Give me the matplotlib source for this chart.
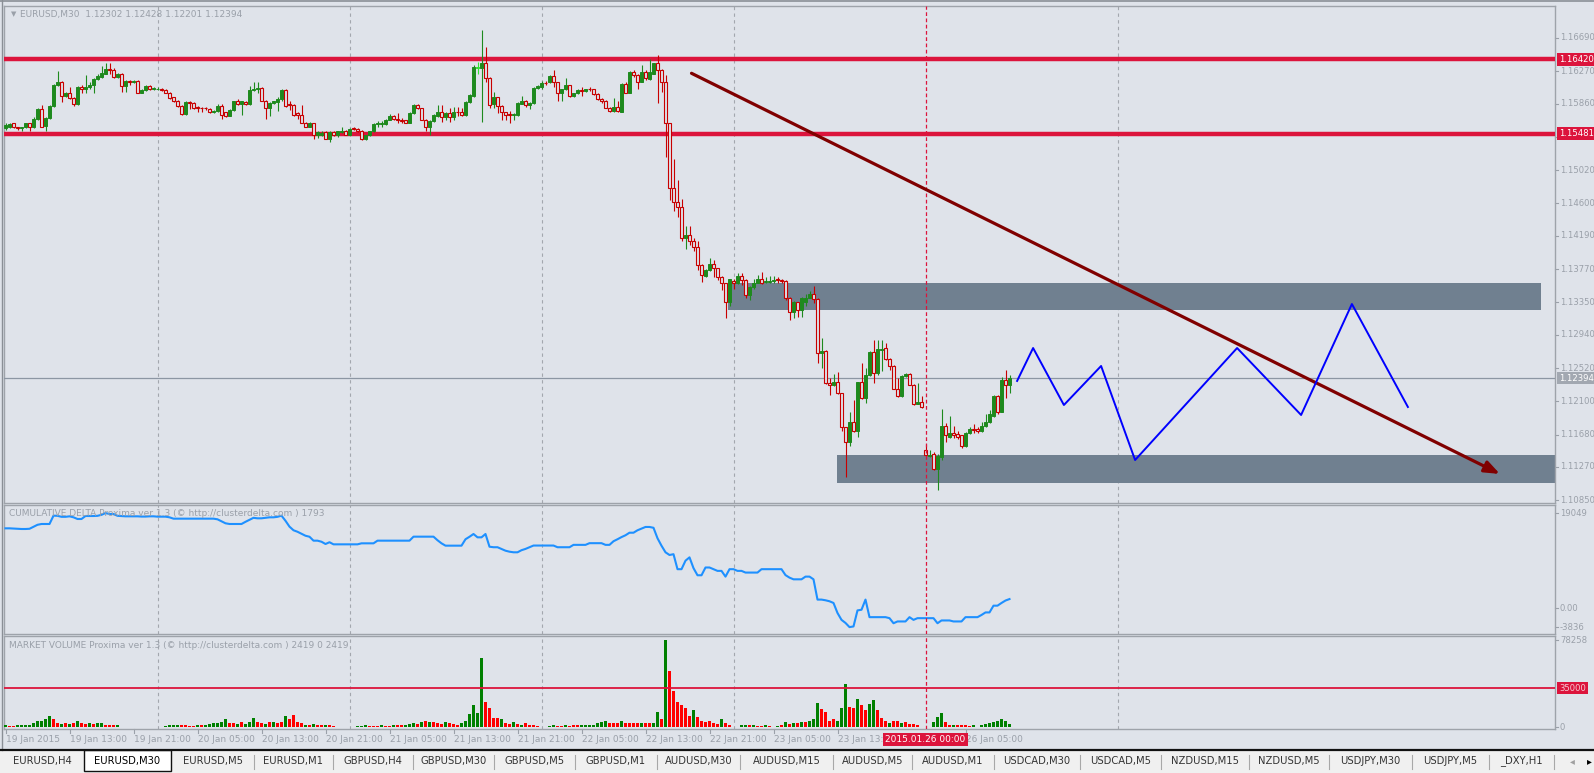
import matplotlib
matplotlib.use("Agg")
import matplotlib.pyplot as plt
import matplotlib.transforms as mtransforms
from matplotlib.patches import Rectangle
from matplotlib.lines import Line2D
import numpy as np

plt.rcParams['font.family'] = ['DejaVu Sans']

# ------------------------------------------------------------------ data
chart_title = "EURUSD,M30  1.12302 1.12428 1.12201 1.12394"
delta_title = "CUMULATIVE DELTA Proxima ver 1.3 (\u00a9 http://clusterdelta.com ) 1793"
volume_title = "MARKET VOLUME Proxima ver 1.3 (\u00a9 http://clusterdelta.com ) 2419 0 2419"

opens = [
 1.1555,1.1556,1.1561,1.1556,1.1555,1.1556,1.1561,1.1556,1.1567,1.1579,
 1.1558,1.1568,1.1583,1.1609,1.1614,1.1596,1.1600,1.1593,1.1585,1.1607,
 1.1605,1.1607,1.1609,1.1617,1.1620,1.1624,1.1630,1.1629,1.1620,1.1624,
 1.1608,1.1615,1.1614,1.1615,1.1600,1.1603,1.1608,1.1604,1.1604,1.1605,
 1.1603,1.1600,1.1594,1.1590,1.1583,1.1573,1.1588,1.1587,1.1582,1.1581,
 1.1580,1.1579,1.1575,1.1577,1.1583,1.1575,1.1571,1.1578,1.1589,1.1585,
 1.1588,1.1585,1.1603,1.1605,1.1606,1.1590,1.1581,1.1587,1.1588,1.1592,
 1.1603,1.1585,1.1584,1.1574,1.1572,1.1562,1.1557,1.1561,1.1547,1.1547,
 1.1550,1.1542,1.1550,1.1546,1.1550,1.1552,1.1547,1.1555,1.1554,1.1552,
 1.1542,1.1546,1.1551,1.1560,1.1560,1.1560,1.1566,1.1571,1.1567,1.1566,
 1.1565,1.1562,1.1574,1.1584,1.1580,1.1566,1.1556,1.1564,1.1570,1.1575,
 1.1569,1.1574,1.1569,1.1576,1.1575,1.1572,1.1588,1.1596,1.1631,1.1631,
 1.1638,1.1619,1.1586,1.1594,1.1583,1.1575,1.1573,1.1572,1.1572,1.1586,
 1.1589,1.1584,1.1587,1.1606,1.1607,1.1612,1.1613,1.1621,1.1613,1.1599,
 1.1604,1.1609,1.1596,1.1599,1.1603,1.1602,1.1604,1.1604,1.1598,1.1592,
 1.1590,1.1581,1.1577,1.1582,1.1576,1.1611,1.1600,1.1626,1.1622,1.1614,
 1.1626,1.1617,1.1624,1.1637,1.1629,1.1614,1.1561,1.1479,1.1462,1.1455,
 1.1416,1.1420,1.1413,1.1405,1.1382,1.1368,1.1376,1.1384,1.1378,1.1367,
 1.1359,1.1335,1.1362,1.1359,1.1368,1.1363,1.1344,1.1354,1.1360,1.1364,
 1.1361,1.1361,1.1362,1.1364,1.1363,1.1362,1.1341,1.1323,1.1335,1.1325,
 1.1335,1.1341,1.1346,1.1339,1.1271,1.1274,1.1233,1.1230,1.1234,1.1220,
 1.1177,1.1158,1.1184,1.1172,1.1234,1.1214,1.1243,1.1272,1.1246,1.1275,
 1.1277,1.1264,1.1255,1.1226,1.1217,1.1242,1.1245,1.1231,1.1207,1.1209,
 1.1149,1.1141,1.1143,1.1124,1.1140,1.1179,1.1165,1.1170,1.1169,1.1167,
 1.1153,1.1170,1.1175,1.1175,1.1172,1.1179,1.1184,1.1192,1.1217,1.1197,
 1.1237,1.1230]
highs = [
 1.1561,1.1561,1.1562,1.1557,1.1557,1.1562,1.1562,1.1569,1.1581,1.1584,
 1.1569,1.1584,1.1611,1.1627,1.1615,1.1601,1.1607,1.1594,1.1608,1.1609,
 1.1622,1.1613,1.1619,1.1623,1.1633,1.1638,1.1638,1.1631,1.1625,1.1625,
 1.1616,1.1616,1.1616,1.1616,1.1604,1.1609,1.1609,1.1607,1.1607,1.1606,
 1.1604,1.1601,1.1595,1.1591,1.1584,1.1589,1.1589,1.1588,1.1583,1.1582,
 1.1582,1.1580,1.1578,1.1585,1.1585,1.1576,1.1579,1.1590,1.1592,1.1590,
 1.1589,1.1608,1.1614,1.1614,1.1607,1.1591,1.1588,1.1590,1.1595,1.1605,
 1.1604,1.1589,1.1585,1.1576,1.1584,1.1563,1.1563,1.1562,1.1551,1.1551,
 1.1551,1.1551,1.1551,1.1552,1.1556,1.1553,1.1555,1.1556,1.1555,1.1553,
 1.1547,1.1552,1.1561,1.1564,1.1564,1.1567,1.1573,1.1572,1.1574,1.1568,
 1.1566,1.1575,1.1585,1.1585,1.1581,1.1567,1.1565,1.1573,1.1584,1.1584,
 1.1575,1.1580,1.1582,1.1582,1.1580,1.1589,1.1598,1.1635,1.1639,1.1679,
 1.1657,1.1620,1.1601,1.1595,1.1584,1.1576,1.1577,1.1574,1.1588,1.1596,
 1.1591,1.1588,1.1607,1.1609,1.1615,1.1615,1.1622,1.1629,1.1614,1.1605,
 1.1618,1.1610,1.1600,1.1604,1.1607,1.1605,1.1607,1.1605,1.1599,1.1593,
 1.1591,1.1582,1.1593,1.1589,1.1612,1.1614,1.1627,1.1628,1.1623,1.1635,
 1.1628,1.1643,1.1638,1.1648,1.1630,1.1622,1.1561,1.1516,1.1489,1.1465,
 1.1431,1.1431,1.1416,1.1412,1.1384,1.1377,1.1391,1.1388,1.1379,1.1368,
 1.1360,1.1365,1.1364,1.1372,1.1372,1.1364,1.1356,1.1365,1.1370,1.1373,
 1.1367,1.1368,1.1368,1.1367,1.1365,1.1363,1.1342,1.1337,1.1336,1.1342,
 1.1346,1.1349,1.1356,1.1340,1.1290,1.1275,1.1239,1.1244,1.1247,1.1221,
 1.1178,1.1197,1.1212,1.1235,1.1259,1.1252,1.1273,1.1288,1.1287,1.1287,
 1.1284,1.1265,1.1256,1.1239,1.1243,1.1246,1.1246,1.1232,1.1233,1.1217,
 1.1156,1.1148,1.1146,1.1144,1.1200,1.1182,1.1191,1.1179,1.1172,1.1168,
 1.1171,1.1177,1.1181,1.1178,1.1184,1.1194,1.1199,1.1218,1.1218,1.1241,
 1.1249,1.1243]
lows = [
 1.1553,1.1555,1.1555,1.1553,1.1552,1.1555,1.1551,1.1555,1.1566,1.1556,
 1.1551,1.1567,1.1582,1.1608,1.1588,1.1594,1.1592,1.1583,1.1584,1.1600,
 1.1599,1.1605,1.1599,1.1616,1.1619,1.1623,1.1624,1.1619,1.1619,1.1601,
 1.1601,1.1609,1.1612,1.1599,1.1599,1.1602,1.1603,1.1603,1.1603,1.1602,
 1.1599,1.1592,1.1588,1.1582,1.1572,1.1572,1.1579,1.1579,1.1575,1.1576,
 1.1578,1.1574,1.1574,1.1576,1.1567,1.1569,1.1570,1.1577,1.1584,1.1572,
 1.1584,1.1584,1.1602,1.1600,1.1589,1.1567,1.1570,1.1586,1.1577,1.1590,
 1.1582,1.1578,1.1571,1.1567,1.1561,1.1556,1.1556,1.1542,1.1543,1.1545,
 1.1541,1.1538,1.1545,1.1544,1.1549,1.1546,1.1546,1.1553,1.1550,1.1540,
 1.1540,1.1545,1.1550,1.1556,1.1556,1.1559,1.1565,1.1566,1.1562,1.1561,
 1.1561,1.1561,1.1573,1.1579,1.1565,1.1552,1.1546,1.1563,1.1569,1.1563,
 1.1565,1.1563,1.1565,1.1571,1.1570,1.1571,1.1587,1.1595,1.1624,1.1563,
 1.1613,1.1580,1.1580,1.1574,1.1565,1.1565,1.1561,1.1565,1.1571,1.1585,
 1.1582,1.1579,1.1586,1.1605,1.1605,1.1610,1.1612,1.1607,1.1589,1.1589,
 1.1603,1.1595,1.1594,1.1598,1.1596,1.1601,1.1602,1.1597,1.1591,1.1587,
 1.1580,1.1576,1.1576,1.1576,1.1575,1.1599,1.1599,1.1620,1.1605,1.1613,
 1.1616,1.1616,1.1623,1.1587,1.1601,1.1519,1.1464,1.1451,1.1443,1.1412,
 1.1403,1.1408,1.1400,1.1376,1.1361,1.1367,1.1374,1.1367,1.1363,1.1351,
 1.1315,1.1330,1.1352,1.1358,1.1357,1.1340,1.1338,1.1352,1.1359,1.1358,
 1.1359,1.1359,1.1360,1.1360,1.1360,1.1338,1.1313,1.1315,1.1316,1.1316,
 1.1330,1.1340,1.1334,1.1258,1.1252,1.1232,1.1218,1.1229,1.1219,1.1173,
 1.1114,1.1153,1.1171,1.1165,1.1213,1.1208,1.1242,1.1233,1.1243,1.1248,
 1.1262,1.1250,1.1225,1.1216,1.1216,1.1241,1.1230,1.1205,1.1207,1.1202,
 1.1141,1.1139,1.1123,1.1098,1.1136,1.1158,1.1163,1.1163,1.1162,1.1151,
 1.1152,1.1169,1.1170,1.1170,1.1171,1.1178,1.1183,1.1190,1.1194,1.1196,
 1.1214,1.1220]
closes = [
 1.1559,1.1560,1.1556,1.1555,1.1556,1.1561,1.1556,1.1567,1.1579,1.1557,
 1.1568,1.1583,1.1610,1.1614,1.1596,1.1600,1.1593,1.1585,1.1607,1.1604,
 1.1607,1.1610,1.1617,1.1621,1.1625,1.1630,1.1629,1.1620,1.1624,1.1608,
 1.1615,1.1614,1.1615,1.1600,1.1603,1.1608,1.1604,1.1606,1.1605,1.1603,
 1.1600,1.1593,1.1590,1.1583,1.1573,1.1588,1.1587,1.1580,1.1580,1.1580,
 1.1580,1.1575,1.1577,1.1583,1.1572,1.1571,1.1578,1.1589,1.1585,1.1589,
 1.1585,1.1603,1.1605,1.1606,1.1590,1.1581,1.1587,1.1589,1.1592,1.1603,
 1.1583,1.1584,1.1572,1.1572,1.1562,1.1557,1.1561,1.1547,1.1550,1.1549,
 1.1542,1.1550,1.1546,1.1551,1.1552,1.1547,1.1554,1.1554,1.1551,1.1542,
 1.1546,1.1551,1.1560,1.1561,1.1561,1.1566,1.1571,1.1567,1.1565,1.1564,
 1.1562,1.1574,1.1584,1.1580,1.1566,1.1556,1.1564,1.1572,1.1575,1.1569,
 1.1574,1.1569,1.1576,1.1575,1.1572,1.1588,1.1597,1.1632,1.1632,1.1638,
 1.1619,1.1584,1.1594,1.1583,1.1575,1.1572,1.1572,1.1573,1.1587,1.1589,
 1.1584,1.1587,1.1606,1.1608,1.1612,1.1612,1.1621,1.1613,1.1599,1.1604,
 1.1609,1.1596,1.1599,1.1603,1.1602,1.1604,1.1604,1.1598,1.1592,1.1589,
 1.1581,1.1577,1.1582,1.1577,1.1611,1.1600,1.1626,1.1622,1.1614,1.1626,
 1.1618,1.1626,1.1637,1.1629,1.1614,1.1561,1.1479,1.1462,1.1455,1.1416,
 1.1420,1.1412,1.1405,1.1382,1.1370,1.1376,1.1384,1.1378,1.1367,1.1359,
 1.1335,1.1364,1.1359,1.1368,1.1363,1.1344,1.1354,1.1360,1.1364,1.1360,
 1.1362,1.1362,1.1363,1.1363,1.1362,1.1340,1.1323,1.1336,1.1325,1.1341,
 1.1341,1.1346,1.1339,1.1271,1.1273,1.1233,1.1230,1.1234,1.1220,1.1177,
 1.1158,1.1184,1.1172,1.1234,1.1214,1.1243,1.1272,1.1246,1.1276,1.1276,
 1.1263,1.1254,1.1226,1.1217,1.1242,1.1245,1.1231,1.1207,1.1209,1.1203,
 1.1142,1.1142,1.1124,1.1141,1.1179,1.1167,1.1170,1.1168,1.1165,1.1153,
 1.1170,1.1175,1.1174,1.1172,1.1179,1.1184,1.1194,1.1217,1.1197,1.1237,
 1.1230,1.1239]

volumes = [
 1500,800,800,1400,1400,2200,2200,3500,5000,5700,
 6800,9500,6800,4000,3000,3500,2700,3500,5700,3500,
 2700,4000,2700,4000,4000,2200,1400,1400,2200,0,
 0,0,0,0,0,0,0,0,0,0,
 800,1400,1400,2200,1400,1400,800,800,1400,1400,
 2200,3000,3500,3500,4100,6800,3500,3500,2700,4100,
 2700,4100,8500,4100,3500,2700,4100,4900,3500,4100,
 9600,7600,10400,4100,3500,2200,2200,3000,2200,1400,
 2200,1400,800,400,0,0,0,0,800,800,
 1400,800,800,500,1400,800,800,1400,2200,1400,
 2200,2700,3500,2700,4900,5700,4100,4100,3500,2700,
 4100,3500,2700,2200,3500,5700,11800,20000,12300,61800,
 22700,17200,8500,8500,6800,3500,2700,4100,2700,2200,
 3500,2200,1400,800,0,0,800,1400,800,800,
 1400,800,1400,1400,1400,1400,2200,2200,3500,4100,
 5700,3500,3500,3500,5700,3500,3500,3500,3500,3500,
 3500,3500,3500,13400,7600,78258,50600,32300,22100,19400,
 17200,10100,15000,9000,5700,4100,5700,3500,3000,6800,
 3500,1400,0,0,1400,2200,1400,1400,800,800,
 1400,800,400,800,2200,4100,2700,3500,3500,4900,
 4900,5700,7600,21300,15900,13100,5700,6800,5700,16700,
 38500,17800,17200,24900,20000,15000,20500,24000,15000,8500,
 5700,3500,5700,5700,3500,4100,3000,3000,1400,0,
 0,0,4900,9000,12600,4100,2200,2200,1400,2200,
 1400,800,2200,300,2200,3000,3500,4100,5700,6800,
 5000,2419]
volume_side = ("grrggggggg" "ggrrgrgrgr" "rgrggrrrgg" "gggggggggg" "ggggrrrrgr"
               "ggggggrrgr" "gggrrgrgrr" "grrrrgrgrr" "grrrgggggg" "grrrgrrgrr"
               "gggrgrgrrr" "grrrgggggg" "rrrrgrrgrg" "rrrrggggrr" "grrrgggggg"
               "grrrgrrrrg" "rrggrgrrrr" "rrgrrrrrrg" "rrggggrgrr" "grrgrgrgrg"
               "rgggrrrrgg" "grrgrrggrr" "rgrrgrrrrg" "gggggrrgrr" "rrgrgggggg" "gg")

cum_delta = [
 15990,15990,15950,15900,15856,15856,15900,16300,16700,16860,
 16860,16860,18532,18500,18300,18300,18400,18200,17863,17863,
 18465,18465,18465,18500,18700,19049,18866,18866,18500,18450,
 18400,18400,18400,18400,18350,18350,18400,18400,18331,18331,
 18331,18200,17930,17930,17930,17930,17930,17930,17930,17930,
 17930,17930,17930,17800,17400,17000,16860,16860,16860,16860,
 17300,17700,18100,18000,18000,18100,18200,18200,18300,18532,
 17500,16324,15600,15300,14900,14500,14300,13514,13514,13300,
 12845,13200,12778,12778,12778,12778,12778,12778,12778,12980,
 12980,12980,12980,13514,13514,13514,13514,13514,13514,13514,
 13514,13514,14317,14317,14317,14317,14317,14317,13600,12980,
 12511,12511,12511,12511,12511,13800,14300,14852,14183,14183,
 14852,12300,12197,12197,11858,11500,11300,11180,11180,11600,
 11858,12200,12536,12536,12536,12536,12536,12536,12197,12197,
 12197,12197,12672,12672,12672,12672,13010,13010,13010,13010,
 12672,12672,13400,13800,14231,14600,15112,15112,15600,15926,
 16265,16265,16100,14000,12500,11180,10638,10800,7790,7790,
 9500,10163,8000,6570,6570,8129,8129,7800,7450,7450,
 6299,7790,7790,7450,7450,7112,7112,7112,7112,7790,
 7790,7790,7790,7790,7790,6600,6095,5756,5756,5756,
 6299,6299,5756,1688,1688,1550,1350,1010,-1000,-2380,
 -3000,-3836,-3700,-480,-350,1688,-1838,-1838,-1838,-1838,
 -1838,-2041,-3058,-2700,-2700,-2700,-1838,-2380,-2041,-2041,
 -2041,-2041,-2041,-3058,-2500,-2500,-2500,-2700,-2700,-2700,
 -1838,-1838,-1838,-1838,-1400,-888,-888,468,468,1010,
 1500,1793]

level_high = 1.16420
level_low = 1.15481
last_price = 1.12394
price_ticks = [1.16690, 1.16270, 1.15860, 1.15440, 1.15020, 1.14600, 1.14190,
               1.13770, 1.13350, 1.12940, 1.12520, 1.12100, 1.11680, 1.11270, 1.10850]
delta_ticks = [19049, 0, -3836]
delta_tick_labels = ["19049", "0.00", "-3836"]
volume_ticks = [78258, 0]
volume_level = 35000

time_label_bars = [0, 16, 32, 48, 64, 80, 96, 112, 128, 144, 160, 176, 192, 208, 240]
time_labels = ["19 Jan 2015", "19 Jan 13:00", "19 Jan 21:00", "20 Jan 05:00", "20 Jan 13:00",
               "20 Jan 21:00", "21 Jan 05:00", "21 Jan 13:00", "21 Jan 21:00", "22 Jan 05:00",
               "22 Jan 13:00", "22 Jan 21:00", "23 Jan 05:00", "23 Jan 13:0", "26 Jan 05:00"]
day_grid_bars = [38, 86, 134, 182, 278]
marker_bar = 230
marker_label = "2015.01.26 00:00"
special_bar = 118

zone_upper_bars = (180.6, 383.9)
zone_upper_prices = (1.13254, 1.13595)
zone_lower_bars = (207.9, 400.0)
zone_lower_prices = (1.11072, 1.11422)
trend_bars = (171.5, 373.6)
trend_prices = (1.16244, 1.11182)
zigzag_bars = [252.9, 256.9, 264.6, 273.9, 282.4, 307.9, 323.9, 336.6, 350.6]
zigzag_prices = [1.12357, 1.12773, 1.12053, 1.12546, 1.11358, 1.12773, 1.11927, 1.13329, 1.12028]

tab_names = ["EURUSD,H4", "EURUSD,M30", "EURUSD,M5", "EURUSD,M1", "GBPUSD,H4", "GBPUSD,M30",
             "GBPUSD,M5", "GBPUSD,M1", "AUDUSD,M30", "AUDUSD,M15", "AUDUSD,M5", "AUDUSD,M1",
             "USDCAD,M30", "USDCAD,M5", "NZDUSD,M15", "NZDUSD,M5", "USDJPY,M30", "USDJPY,M5", "_DXY,H1"]
active_tab = 1

# ------------------------------------------------------------------ style
W, H = 1594, 773
BG = '#DFE3EA'
FRAME = '#9EA3AA'
TXT = '#9AA0A9'
GREEN = '#1E8A1E'
RED = '#C80000'
CRIMSON = '#DC143C'

fig = plt.figure(figsize=(W / 100, H / 100), dpi=100)
fig.patch.set_facecolor(BG)


def add_ax(x0, y0, x1, y1):
    a = fig.add_axes([x0 / W, 1 - y1 / H, (x1 - x0) / W, (y1 - y0) / H])
    a.set_facecolor(BG)
    a.set_xlim(-0.375, 387.375)
    a.set_xticks([])
    a.set_yticks([])
    for s in a.spines.values():
        s.set_color(FRAME)
        s.set_linewidth(1.0)
    return a


ax_p = add_ax(4, 6, 1555, 503)
ax_d = add_ax(4, 505, 1555, 634)
ax_v = add_ax(4, 636, 1555, 729)
ax_p.set_ylim(1.10815, 1.17094)
ax_d.set_ylim(-5218, 20672)
ax_v.set_ylim(-1800, 82000)

n = len(closes)
xs = np.arange(n)
o = np.array(opens); h = np.array(highs); l = np.array(lows); c = np.array(closes)

# grid lines
for a in (ax_p, ax_d, ax_v):
    for b in day_grid_bars:
        a.axvline(b, color='#A3A7AE', lw=0.8, ls=(0, (3, 3)), zorder=1)
    a.axvline(marker_bar, color=CRIMSON, lw=0.9, ls=(0, (3, 2)), zorder=6)

# zones
for (b0, b1), (p0, p1) in ((zone_upper_bars, zone_upper_prices), (zone_lower_bars, zone_lower_prices)):
    ax_p.add_patch(Rectangle((b0, p0), b1 - b0, p1 - p0, fc='#708090', ec='none', zorder=2))

# level lines
for lv in (level_high, level_low):
    ax_p.axhline(lv, color=CRIMSON, lw=3.2, zorder=3, solid_capstyle='butt')
ax_p.axhline(last_price, color='#8C96A3', lw=0.9, zorder=3)

# candles
bull = c > o
for i in range(n):
    col = GREEN if bull[i] else RED
    if i == special_bar:
        col = '#32E032'
    ax_p.vlines(xs[i], l[i], h[i], color=col, lw=0.8, zorder=4)
    lo_b = min(o[i], c[i])
    ht = max(abs(c[i] - o[i]), 0.00001)
    if bull[i] or i == special_bar:
        ax_p.bar(xs[i], ht, bottom=lo_b, width=0.55, color=col, edgecolor=col, lw=0.7, zorder=5)
    else:
        ax_p.bar(xs[i], ht, bottom=lo_b, width=0.55, color=BG, edgecolor=col, lw=0.8, zorder=5)

# trend arrow
ax_p.annotate('', xy=(trend_bars[1], trend_prices[1]), xytext=(trend_bars[0], trend_prices[0]),
              arrowprops=dict(arrowstyle='-|>,head_length=0.9,head_width=0.35', color='#800000',
                              lw=2.3, shrinkA=0, shrinkB=0), zorder=7)
# zigzag
ax_p.plot(zigzag_bars, zigzag_prices, color='#0000FF', lw=1.4, zorder=7)

# delta line
ax_d.plot(xs, cum_delta, color='#1E90FF', lw=1.5, zorder=5)

# volume bars
vcols = ['#008000' if s == 'g' else '#FF0000' for s in volume_side]
ax_v.bar(xs, volumes, width=0.7, color=vcols, lw=0, zorder=4)
ax_v.axhline(volume_level, color=CRIMSON, lw=1.3, zorder=5)

# ------------------------------------------------------------------ right scales
FS = 6.5
RFS = 6.1
def right_labels(a, vals, labels):
    tr = mtransforms.blended_transform_factory(a.transAxes, a.transData)
    for v, s in zip(vals, labels):
        a.text(1.0 + 5 / 1551, v, s, transform=tr, fontsize=RFS, color=TXT, va='center', ha='left',
               clip_on=False, zorder=8)
        a.plot([1.0, 1.0 + 3 / 1551], [v, v], transform=tr, color=TXT, lw=0.8, clip_on=False)

right_labels(ax_p, price_ticks, ["%.5f" % p for p in price_ticks])
right_labels(ax_d, delta_ticks, delta_tick_labels)
right_labels(ax_v, volume_ticks, [str(v) for v in volume_ticks])

def box_label(a, v, s, fc, tc='white'):
    tr = mtransforms.blended_transform_factory(a.transAxes, a.transData)
    a.text(1.0 + 4 / 1551, v, s, transform=tr, fontsize=RFS, color=tc, va='center', ha='left',
           clip_on=False, zorder=10,
           bbox=dict(boxstyle='square,pad=0.2', fc=fc, ec='none'))

box_label(ax_p, level_high, "%.5f" % level_high, CRIMSON)
box_label(ax_p, level_low, "%.5f" % level_low, CRIMSON)
box_label(ax_p, last_price, "%.5f" % last_price, '#A2A8B1')
box_label(ax_v, volume_level, str(volume_level), CRIMSON, '#F6C8D2')

# ------------------------------------------------------------------ titles
fig.text(11 / W, 1 - 14 / H, "\u25BC", fontsize=5, color=TXT, va='center', ha='left')
fig.text(20 / W, 1 - 14 / H, chart_title, fontsize=FS, color=TXT, va='center', ha='left')
fig.text(9 / W, 1 - 514 / H, delta_title, fontsize=FS, color=TXT, va='center', ha='left', zorder=0)
fig.text(9 / W, 1 - 645 / H, volume_title, fontsize=FS, color=TXT, va='center', ha='left')
ax_p.plot([1009], [1.17094], marker='v', ms=5, color='#8D96A2', clip_on=False, zorder=9)

# ------------------------------------------------------------------ time axis
trx = mtransforms.blended_transform_factory(ax_v.transData, ax_v.transAxes)
for b, s in zip(time_label_bars, time_labels):
    ax_v.plot([b, b], [0, -4 / 93], transform=trx, color=TXT, lw=0.8, clip_on=False)
    ax_v.text(b, -10.5 / 93, s, transform=trx, fontsize=FS, color=TXT, ha='left', va='center',
              clip_on=False)
ax_v.text(marker_bar, -10.5 / 93, marker_label, transform=trx, fontsize=FS, color='white',
          ha='center', va='center', clip_on=False, zorder=10,
          bbox=dict(boxstyle='square,pad=0.22', fc=CRIMSON, ec='none'))

# window border lines
fig.add_artist(Line2D([0, 1], [1 - 0.5 / H] * 2, color='#8A8F96', lw=1.2))
fig.add_artist(Line2D([1.5 / W] * 2, [1 - 750 / H, 1], color='#8A8F96', lw=1.0))

# ------------------------------------------------------------------ tabs
tab_edges = [0, 84, 171, 254, 333, 413, 494, 575, 657, 740, 833, 912, 994, 1080, 1161, 1249,
             1329, 1412, 1489, 1554]
fig.add_artist(Rectangle((0, 0), 1, 23 / H, transform=fig.transFigure, fc='#F0F0F0', ec='none'))
fig.add_artist(Line2D([0, 1], [1 - 750 / H] * 2, color='#111111', lw=1.6))
for k, name in enumerate(tab_names):
    x0, x1 = tab_edges[k], tab_edges[k + 1]
    if k == active_tab:
        fig.add_artist(Rectangle((x0 / W, 1 - 771 / H), (x1 - x0) / W, 21 / H,
                                 transform=fig.transFigure, fc='white', ec='#111111', lw=1.0))
    elif k + 1 != active_tab:
        fig.add_artist(Line2D([x1 / W] * 2, [1 - 769 / H, 1 - 755 / H], color='#A8A8A8', lw=0.8))
    fig.text((x0 + x1) / 2 / W, 1 - 761 / H, name, fontsize=7.2,
             color='#333333' if k != active_tab else '#000000', ha='center', va='center')
fig.text(1572 / W, 1 - 761 / H, "\u25C2", fontsize=7, color='#A0A0A0', ha='center', va='center')
fig.text(1589 / W, 1 - 761 / H, "\u25B8", fontsize=7, color='#000000', ha='center', va='center')

fig.savefig('out.png', dpi=100, facecolor=BG)
